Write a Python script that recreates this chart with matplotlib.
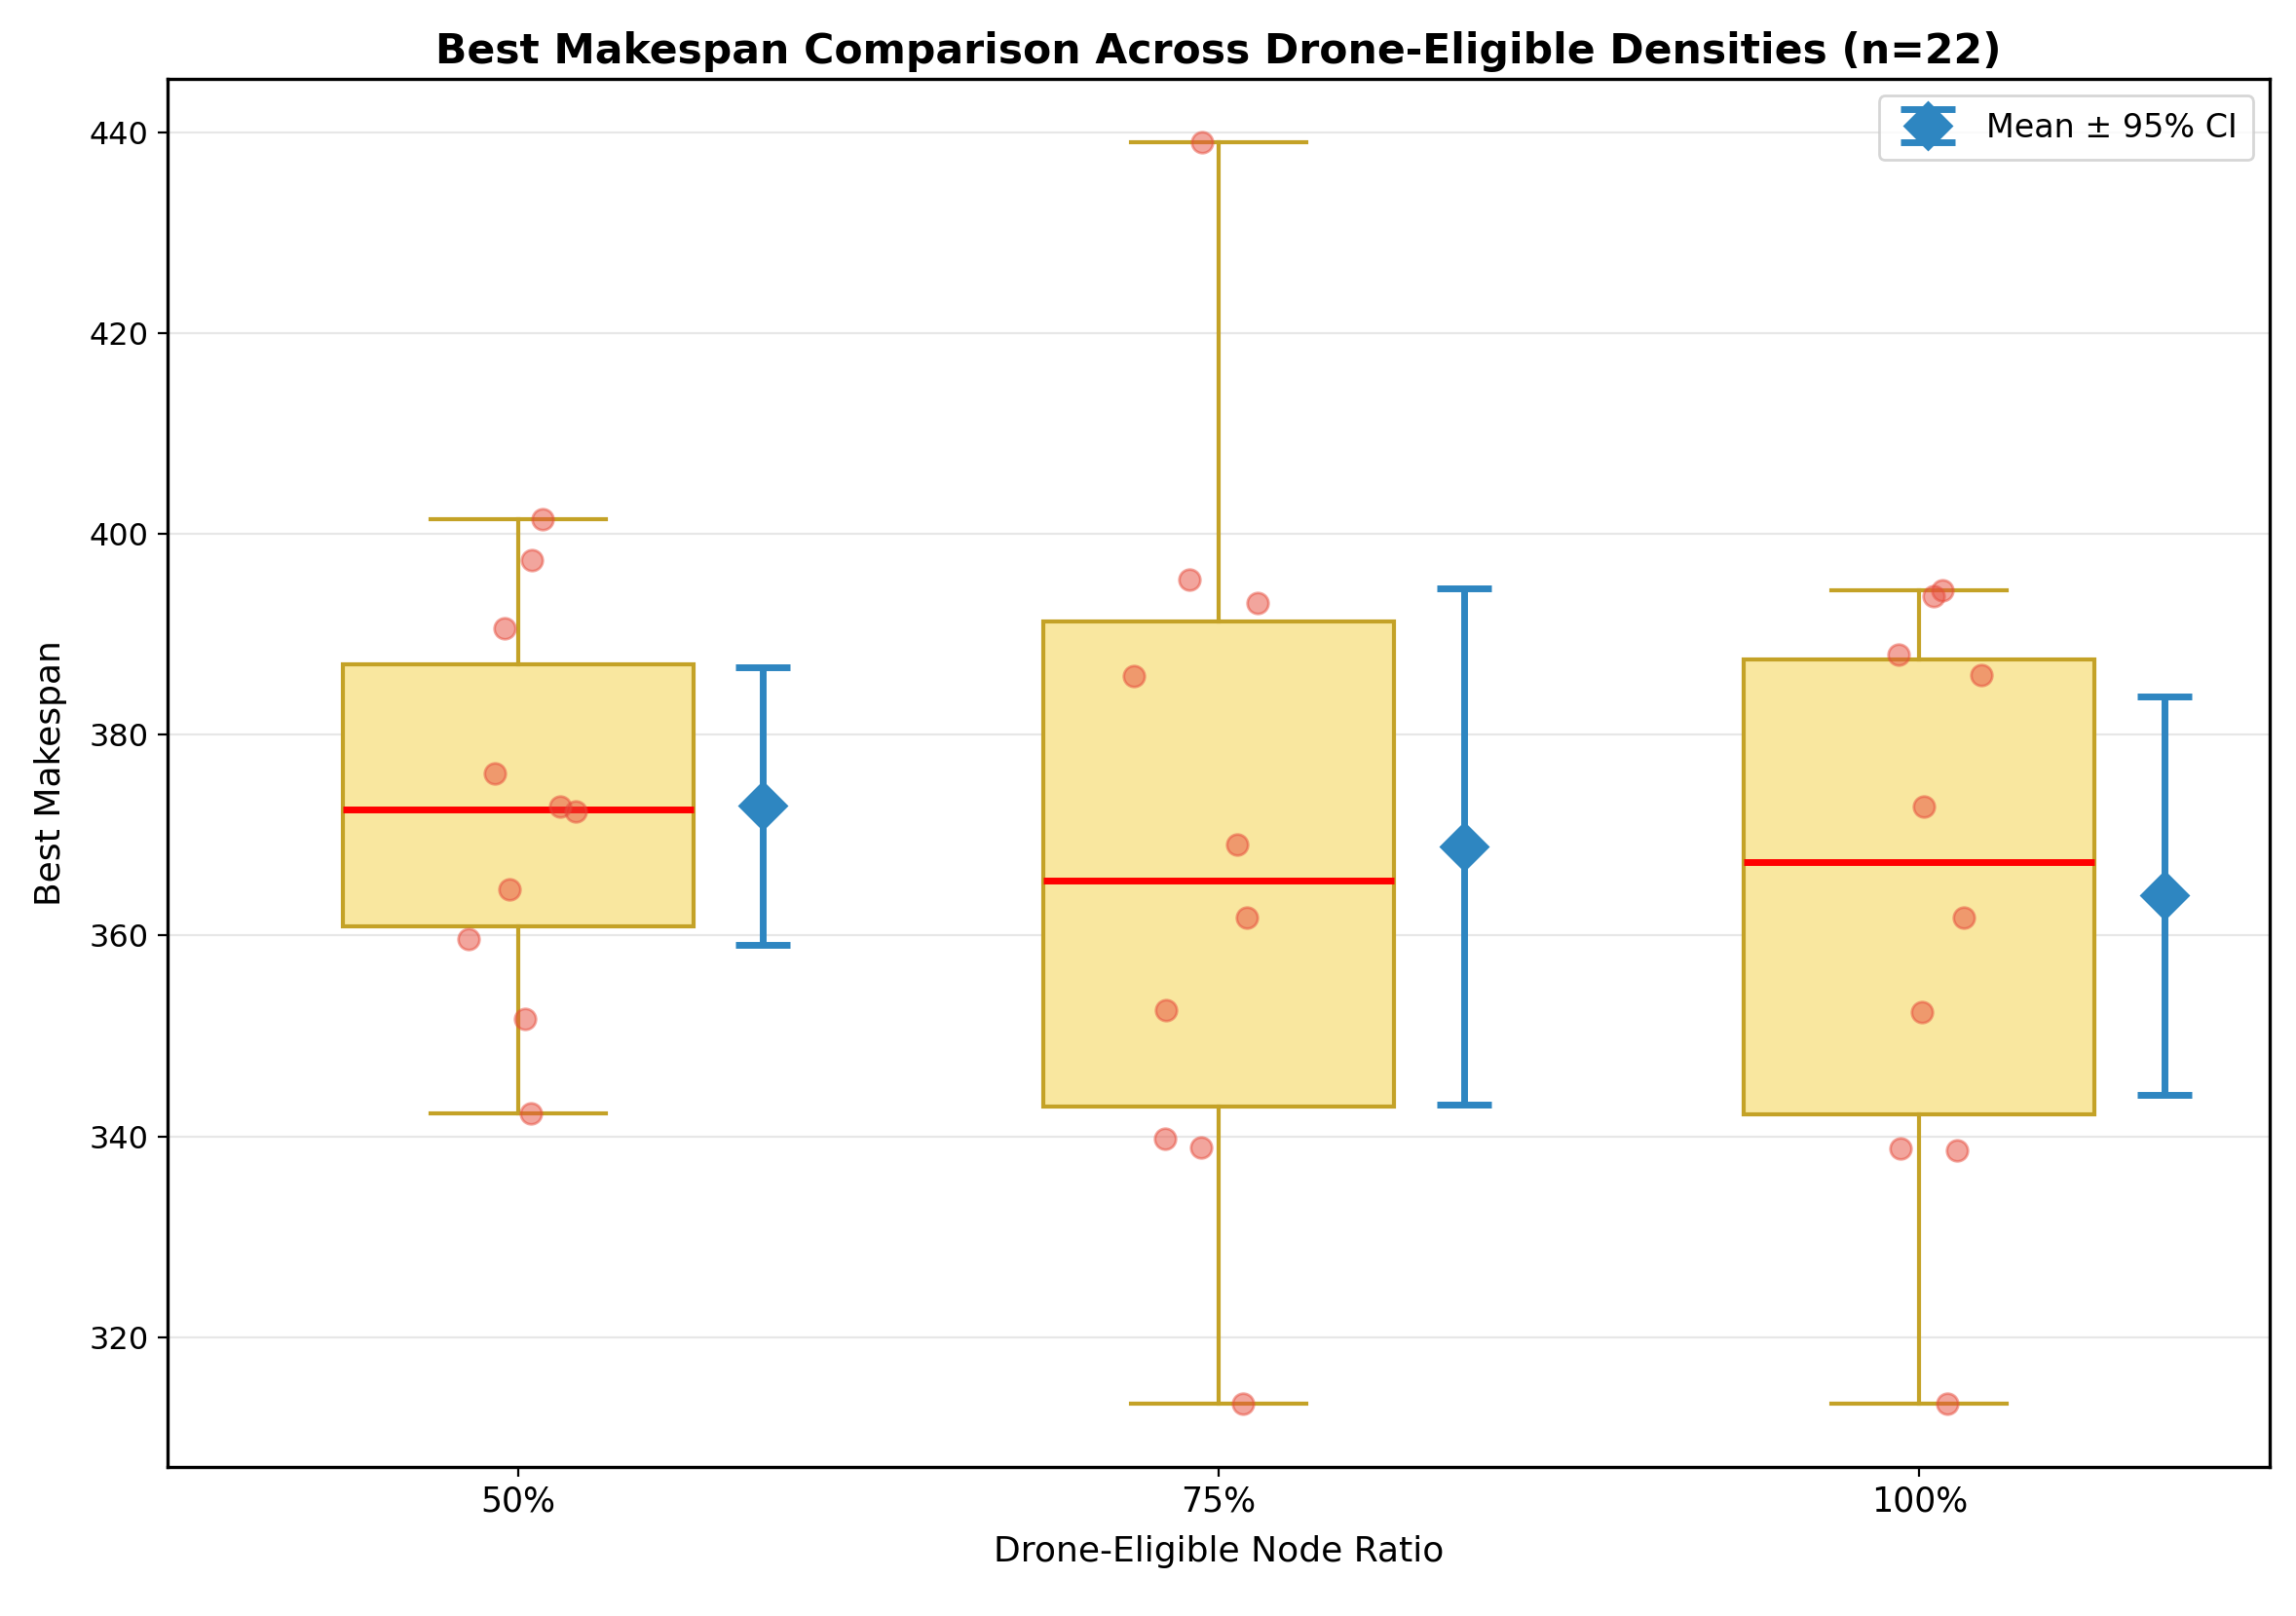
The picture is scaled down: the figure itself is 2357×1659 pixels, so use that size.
import numpy as np
import matplotlib
matplotlib.use('Agg')
import matplotlib.pyplot as plt

# drone-eligible ratio groups
categories = ['50%', '75%', '100%']

# best makespan per instance
ms_50 = [401.5, 397.4, 390.6, 376.1, 372.8, 372.4, 364.6, 359.7, 351.7, 342.3]
ms_75 = [439.0, 395.4, 393.1, 385.8, 369.1, 361.8, 352.6, 339.8, 338.9, 313.4]
ms_100 = [394.4, 393.8, 388.0, 385.9, 372.8, 361.8, 352.4, 338.8, 338.6, 313.4]

# horizontal jitter of the scatter points
jit_50 = [0.035, 0.02, -0.019, -0.033, 0.06, 0.083, -0.0125, -0.07, 0.01, 0.019]
jit_75 = [-0.023, -0.042, 0.056, -0.121, 0.027, 0.04, -0.075, -0.077, -0.025, 0.035]
jit_100 = [0.033, 0.021, -0.029, 0.088, 0.006, 0.063, 0.004, -0.027, 0.054, 0.04]

data = [ms_50, ms_75, ms_100]
jitters = [jit_50, jit_75, jit_100]
T_CRIT = 2.262  # t(0.975, df=9)

fig, ax = plt.subplots(figsize=(11.785, 8.295), dpi=200)
fig.subplots_adjust(left=0.073, right=0.9885, top=0.951, bottom=0.0925)

pos = np.arange(1, len(categories) + 1)
edge = '#C4A227'
ax.boxplot(data, positions=pos, widths=0.5, patch_artist=True,
           boxprops=dict(facecolor='#F9E79F', edgecolor=edge, linewidth=1.5),
           whiskerprops=dict(color=edge, linewidth=1.5),
           capprops=dict(color=edge, linewidth=1.5),
           medianprops=dict(color='red', linewidth=2.5),
           showfliers=False)

for p, vals, jit in zip(pos, data, jitters):
    ax.scatter(p + np.array(jit), vals, color='#E74C3C', alpha=0.5, s=60,
               zorder=3, linewidths=1)

means, cis = [], []
for vals in data:
    v = np.array(vals)
    means.append(v.mean())
    cis.append(T_CRIT * v.std(ddof=1) / np.sqrt(len(v)))

ax.errorbar(pos + 0.35, means, yerr=cis, fmt='D', color='#2E86C1',
            markersize=12, capsize=10, capthick=2.5, elinewidth=2.5,
            label='Mean ± 95% CI', zorder=4)

ax.set_xticks(pos)
ax.set_xticklabels(categories, fontsize=12.5)
ax.tick_params(axis='y', labelsize=11.5)
ax.set_xlim(0.5, 3.5)
ax.set_xlabel('Drone-Eligible Node Ratio', fontsize=13, labelpad=6)
ax.set_ylabel('Best Makespan', fontsize=13, labelpad=8)
ax.set_title('Best Makespan Comparison Across Drone-Eligible Densities (n=22)',
             fontsize=15.3, fontweight='bold')
ax.grid(axis='y', alpha=0.3)
ax.set_axisbelow(True)
for s in ax.spines.values():
    s.set_linewidth(1.2)
ax.legend(loc='upper right', fontsize=12, borderpad=0.5)

plt.savefig('out.png', dpi=200)
plt.close()
